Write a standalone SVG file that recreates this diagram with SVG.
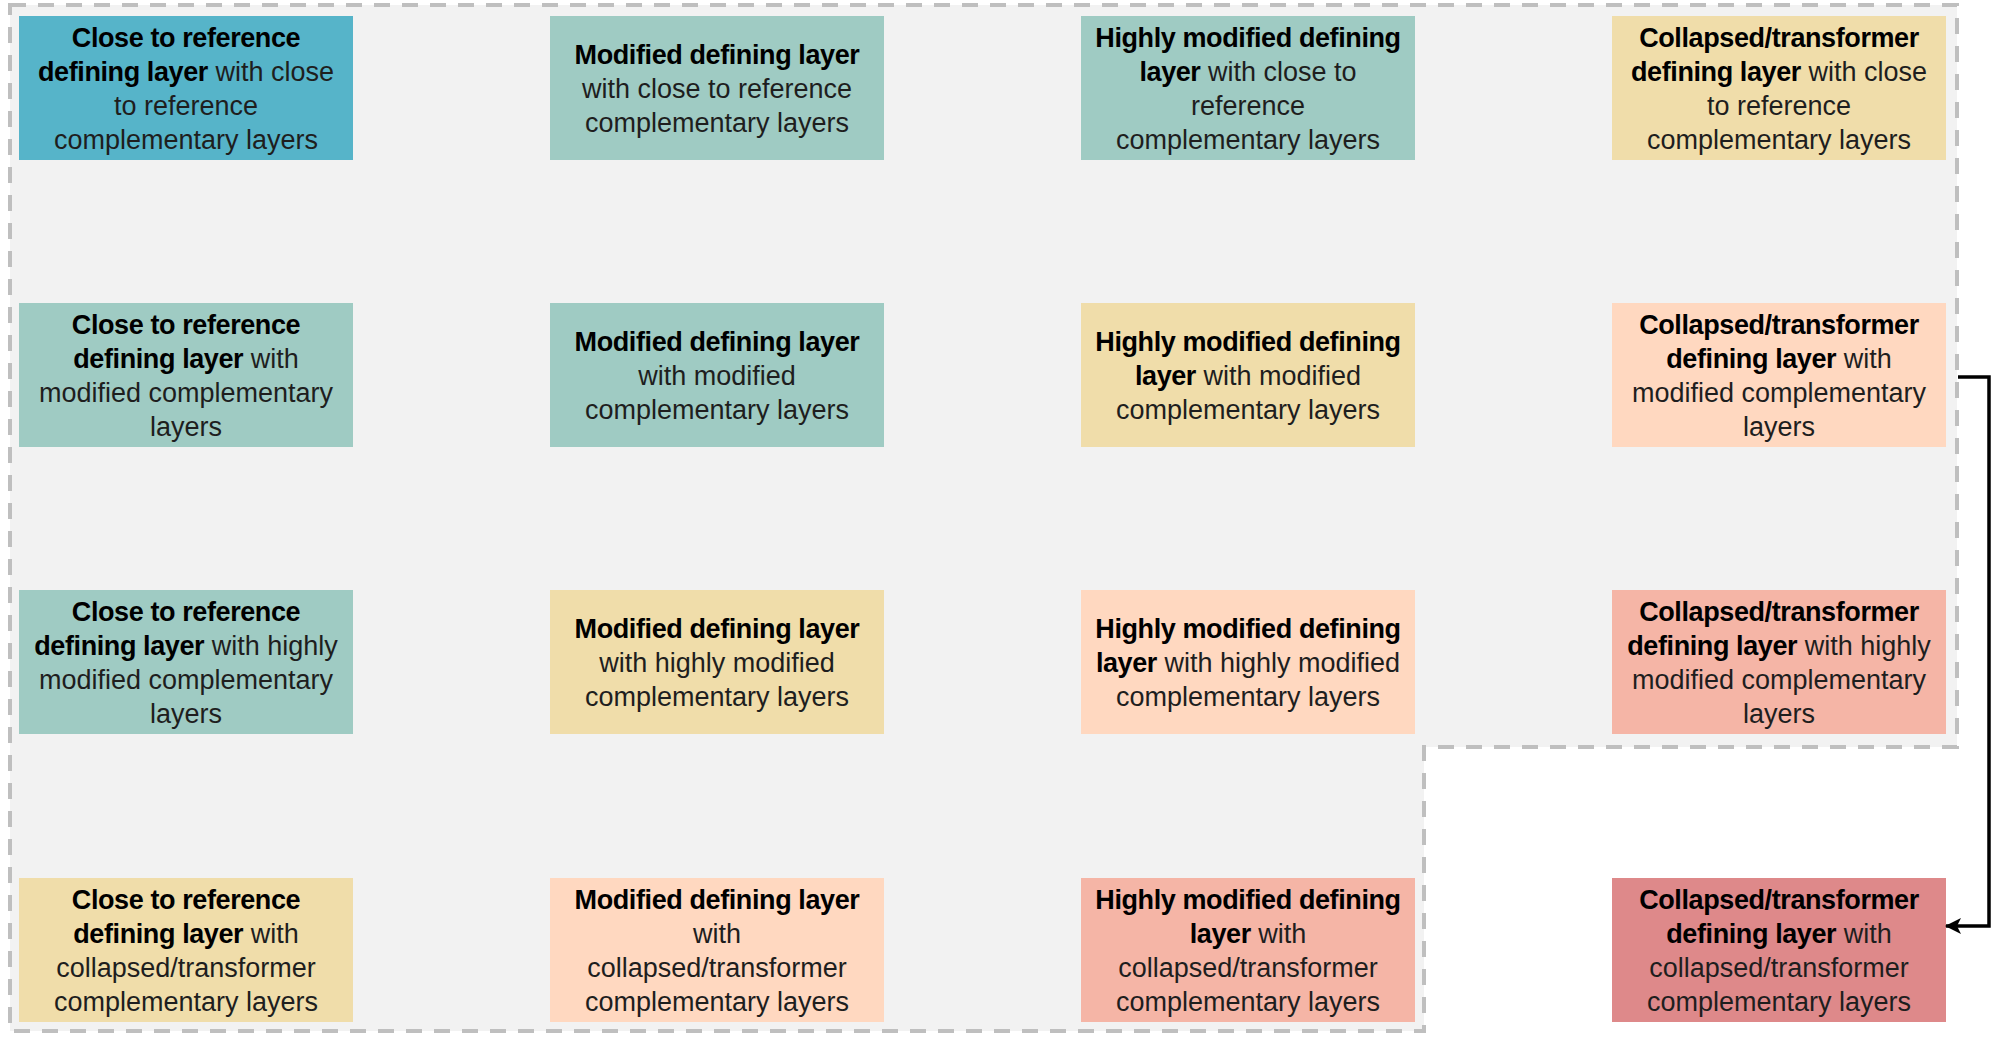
<svg xmlns="http://www.w3.org/2000/svg" width="1997" height="1037" viewBox="0 0 1997 1037">
<defs>
<style>
.bg{fill:#F2F2F2;stroke:#BFBFBF;stroke-width:4;stroke-dasharray:16 12;}
.n rect{stroke:none;}
.blue{fill:#56B4C9;}
.mint{fill:#9FCBC3;}
.yel{fill:#F0DDAA;}
.pea{fill:#FFD8C0;}
.sal{fill:#F5B5A6;}
.red{fill:#DE898A;}
text{font-family:"Liberation Sans",Arial,sans-serif;font-size:27px;fill:#1E1E1E;text-anchor:middle;}
.b{font-weight:bold;fill:#000;letter-spacing:-0.4px;}
.conn{fill:none;stroke:#000;stroke-width:3.5;}
</style>
<marker id="ah" viewBox="0 0 16 16" refX="15" refY="8" markerWidth="16" markerHeight="16" markerUnits="userSpaceOnUse" orient="auto">
<path d="M0,0 L16,8 L0,16 L4,8 Z" fill="#000"/>
</marker>
</defs>
<rect width="1997" height="1037" fill="#FFFFFF"/>
<path class="bg" d="M10,5 H1957 V747 H1424 V1031 H10 Z"/>

<g id="r1c1" class="n"><rect class="blue" x="19" y="16" width="334" height="144"/>
<text x="186" y="46.5"><tspan class="b">Close to reference</tspan></text>
<text x="186" y="80.8"><tspan class="b">defining layer</tspan> with close</text>
<text x="186" y="115.2">to reference</text>
<text x="186" y="149.4">complementary layers</text></g>

<g id="r1c2" class="n"><rect class="mint" x="550" y="16" width="334" height="144"/>
<text x="717" y="63.7"><tspan class="b">Modified defining layer</tspan></text>
<text x="717" y="98">with close to reference</text>
<text x="717" y="132.3">complementary layers</text></g>

<g id="r1c3" class="n"><rect class="mint" x="1081" y="16" width="334" height="144"/>
<text x="1248" y="46.5"><tspan class="b">Highly modified defining</tspan></text>
<text x="1248" y="80.8"><tspan class="b">layer</tspan> with close to</text>
<text x="1248" y="115.2">reference</text>
<text x="1248" y="149.4">complementary layers</text></g>

<g id="r1c4" class="n"><rect class="yel" x="1612" y="16" width="334" height="144"/>
<text x="1779" y="46.5"><tspan class="b">Collapsed/transformer</tspan></text>
<text x="1779" y="80.8"><tspan class="b">defining layer</tspan> with close</text>
<text x="1779" y="115.2">to reference</text>
<text x="1779" y="149.4">complementary layers</text></g>

<g id="r2c1" class="n"><rect class="mint" x="19" y="303" width="334" height="144"/>
<text x="186" y="333.5"><tspan class="b">Close to reference</tspan></text>
<text x="186" y="367.8"><tspan class="b">defining layer</tspan> with</text>
<text x="186" y="402.2">modified complementary</text>
<text x="186" y="436.4">layers</text></g>

<g id="r2c2" class="n"><rect class="mint" x="550" y="303" width="334" height="144"/>
<text x="717" y="350.7"><tspan class="b">Modified defining layer</tspan></text>
<text x="717" y="385">with modified</text>
<text x="717" y="419.3">complementary layers</text></g>

<g id="r2c3" class="n"><rect class="yel" x="1081" y="303" width="334" height="144"/>
<text x="1248" y="350.7"><tspan class="b">Highly modified defining</tspan></text>
<text x="1248" y="385"><tspan class="b">layer</tspan> with modified</text>
<text x="1248" y="419.3">complementary layers</text></g>

<g id="r2c4" class="n"><rect class="pea" x="1612" y="303" width="334" height="144"/>
<text x="1779" y="333.5"><tspan class="b">Collapsed/transformer</tspan></text>
<text x="1779" y="367.8"><tspan class="b">defining layer</tspan> with</text>
<text x="1779" y="402.2">modified complementary</text>
<text x="1779" y="436.4">layers</text></g>

<g id="r3c1" class="n"><rect class="mint" x="19" y="590" width="334" height="144"/>
<text x="186" y="620.5"><tspan class="b">Close to reference</tspan></text>
<text x="186" y="654.8"><tspan class="b">defining layer</tspan> with highly</text>
<text x="186" y="689.2">modified complementary</text>
<text x="186" y="723.4">layers</text></g>

<g id="r3c2" class="n"><rect class="yel" x="550" y="590" width="334" height="144"/>
<text x="717" y="637.7"><tspan class="b">Modified defining layer</tspan></text>
<text x="717" y="672">with highly modified</text>
<text x="717" y="706.3">complementary layers</text></g>

<g id="r3c3" class="n"><rect class="pea" x="1081" y="590" width="334" height="144"/>
<text x="1248" y="637.7"><tspan class="b">Highly modified defining</tspan></text>
<text x="1248" y="672"><tspan class="b">layer</tspan> with highly modified</text>
<text x="1248" y="706.3">complementary layers</text></g>

<g id="r3c4" class="n"><rect class="sal" x="1612" y="590" width="334" height="144"/>
<text x="1779" y="620.5"><tspan class="b">Collapsed/transformer</tspan></text>
<text x="1779" y="654.8"><tspan class="b">defining layer</tspan> with highly</text>
<text x="1779" y="689.2">modified complementary</text>
<text x="1779" y="723.4">layers</text></g>

<g id="r4c1" class="n"><rect class="yel" x="19" y="878" width="334" height="144"/>
<text x="186" y="908.5"><tspan class="b">Close to reference</tspan></text>
<text x="186" y="942.8"><tspan class="b">defining layer</tspan> with</text>
<text x="186" y="977.2">collapsed/transformer</text>
<text x="186" y="1011.4">complementary layers</text></g>

<g id="r4c2" class="n"><rect class="pea" x="550" y="878" width="334" height="144"/>
<text x="717" y="908.5"><tspan class="b">Modified defining layer</tspan></text>
<text x="717" y="942.8">with</text>
<text x="717" y="977.2">collapsed/transformer</text>
<text x="717" y="1011.4">complementary layers</text></g>

<g id="r4c3" class="n"><rect class="sal" x="1081" y="878" width="334" height="144"/>
<text x="1248" y="908.5"><tspan class="b">Highly modified defining</tspan></text>
<text x="1248" y="942.8"><tspan class="b">layer</tspan> with</text>
<text x="1248" y="977.2">collapsed/transformer</text>
<text x="1248" y="1011.4">complementary layers</text></g>

<g id="r4c4" class="n"><rect class="red" x="1612" y="878" width="334" height="144"/>
<text x="1779" y="908.5"><tspan class="b">Collapsed/transformer</tspan></text>
<text x="1779" y="942.8"><tspan class="b">defining layer</tspan> with</text>
<text x="1779" y="977.2">collapsed/transformer</text>
<text x="1779" y="1011.4">complementary layers</text></g>

<g id="connectors">
<path class="conn" d="M1958,377 H1989 V926 H1946" marker-end="url(#ah)"/>
</g>
</svg>
